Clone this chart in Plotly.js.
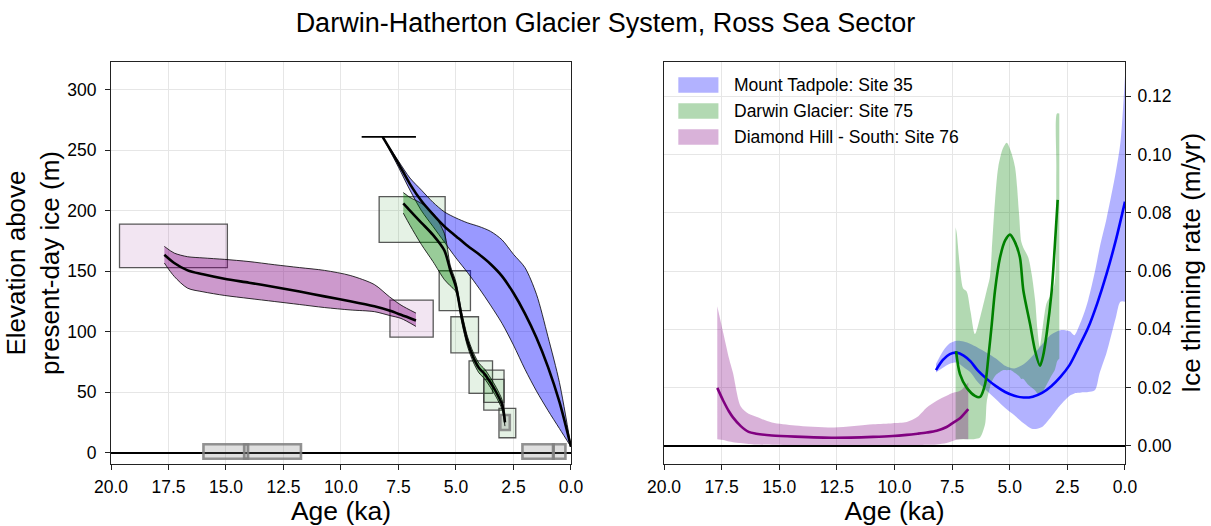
<!DOCTYPE html>
<html><head><meta charset="utf-8">
<script src="https://cdn.plot.ly/plotly-3.0.1.min.js"></script>
<style>html,body{margin:0;padding:0;background:#fff}</style>
</head><body><div id="chart" style="width:1211px;height:526px"></div>
<script>
// ---------- LEFT PANEL: elevation above present-day ice (m) ----------
const tadAge   = [8.19, 7.5, 7.0, 6.5, 6.0, 5.5, 5.0, 4.5, 4.0, 3.5, 3.0, 2.5, 2.0, 1.5, 1.0, 0.5, 0.0];
const tadElev  = [261, 239, 222, 208, 197, 187, 179, 171, 164, 156, 146, 132, 115, 95, 71, 42, 5];
const tadElevHi= [261, 241, 227, 217, 207, 199, 194, 190, 187, 183, 176, 164, 153, 131, 96, 58, 5];
const tadElevLo= [261, 236, 217, 200, 187, 174, 161, 149, 136, 122, 107, 89, 69, 51, 35, 20, 5];

const darAge   = [7.29, 7.0, 6.5, 6.0, 5.5, 5.25, 5.0, 4.75, 4.5, 4.25, 4.0, 3.75, 3.5, 3.25, 3.0, 2.92, 2.87];
const darElev  = [206, 200, 190, 180, 167, 151, 137, 112, 92, 79, 70, 65, 58, 50, 40, 33, 25];
const darElevHi= [215, 211, 206, 198, 181, 155, 141, 116, 96, 83, 74, 69, 62, 54, 44, 36, 28];
const darElevLo= [198, 188, 172, 158, 143, 138, 133, 108, 88, 75, 66, 61, 54, 46, 36, 29, 22];

const diaAge   = [17.68, 17.25, 16.67, 16.0, 15.07, 14.0, 12.9, 11.8, 10.72, 9.6, 8.55, 7.9, 7.39, 6.74];
const diaElev  = [163.6, 156.8, 150.7, 147.5, 143.8, 140.5, 137, 133.2, 129.2, 125.2, 121, 117.5, 114, 109.3];
const diaElevHi= [170.5, 165, 162, 161, 159.8, 158, 155.4, 153, 150.7, 146.5, 139, 129, 122, 115.4];
const diaElevLo= [156.8, 145.7, 136, 133, 130, 127.5, 125, 122.5, 120, 118, 116.6, 113.5, 111, 104.4];

// exposure-age boxes: [age min, age max] x [elev min, elev max]
const diaBoxAgeMin  = [14.94, 5.99];
const diaBoxAgeMax  = [19.63, 7.87];
const diaBoxElevMin = [152.9, 95.6];
const diaBoxElevMax = [189.0, 126.2];

const darBoxAgeMin  = [5.47, 4.37, 4.02, 3.41, 2.91, 2.91, 2.40];
const darBoxAgeMax  = [8.34, 5.73, 5.22, 4.43, 3.79, 3.79, 3.13];
const darBoxElevMin = [173.9, 117.4, 82.6, 49.1, 35.3, 41.7, 12.4];
const darBoxElevMax = [211.6, 150.4, 112.4, 76.0, 68.3, 60.7, 36.7];

const grayBoxAgeMin  = [14.04, 11.74, 0.75, 0.24, 2.66];
const grayBoxAgeMax  = [15.98, 14.21, 2.11, 0.78, 3.07];
const grayBoxElevMin = [-5, -5, -5, -5, 18.8];
const grayBoxElevMax = [7, 7, 7, 7, 31.2];

const errAge  = [7.92];
const errElev = [261];
const errHalf = [1.18];

// ---------- RIGHT PANEL: ice thinning rate (m/yr) ----------
const tadRateAge = [8.2, 7.9, 7.6, 7.3, 7.0, 6.7, 6.4, 6.0, 5.6, 5.2, 4.8, 4.4, 4.0, 3.6, 3.2, 2.8, 2.4, 2.0, 1.6, 1.2, 0.8, 0.4, 0.0];
const tadRate    = [0.026, 0.0295, 0.0315, 0.032, 0.031, 0.029, 0.026, 0.023, 0.0205, 0.0185, 0.0172, 0.0166, 0.0169, 0.0182, 0.0205, 0.0237, 0.0278, 0.034, 0.0405, 0.049, 0.059, 0.0705, 0.0838];
const tadBandAge = [8.2, 7.9, 7.6, 7.3, 7.0, 6.7, 6.4, 6.0, 5.6, 5.2, 4.8, 4.4, 4.0, 3.6, 3.2, 2.8, 2.4, 2.2, 2.0, 1.8, 1.6, 1.3, 1.1, 0.8, 0.4, 0.2, 0.0];
const tadRateHi  = [0.0281, 0.0325, 0.0352, 0.0361, 0.0358, 0.035, 0.0338, 0.032, 0.030, 0.0275, 0.0266, 0.028, 0.031, 0.0348, 0.0382, 0.0397, 0.0393, 0.038, 0.041, 0.045, 0.050, 0.060, 0.068, 0.078, 0.094, 0.104, 0.127];
const tadRateLo  = [0.0252, 0.0268, 0.0282, 0.0286, 0.027, 0.0252, 0.022, 0.0189, 0.016, 0.013, 0.0105, 0.0078, 0.0058, 0.0065, 0.0100, 0.0140, 0.0172, 0.0180, 0.0182, 0.0184, 0.0185, 0.0192, 0.025, 0.032, 0.044, 0.0495, 0.0495];

const darRateAge = [7.33, 7.16, 6.87, 6.51, 6.29, 6.07, 5.93, 5.78, 5.64, 5.42, 5.2, 4.99, 4.78, 4.56, 4.41, 4.12, 3.90, 3.69, 3.55, 3.40, 3.18, 3.05, 2.92];
const darRate    = [0.0325, 0.0246, 0.020, 0.0172, 0.0168, 0.0212, 0.0303, 0.0418, 0.0533, 0.0647, 0.0705, 0.0725, 0.070, 0.0647, 0.0533, 0.0418, 0.0326, 0.0275, 0.031, 0.0384, 0.0533, 0.068, 0.0844];
const darBandAge = [7.35, 7.30, 7.16, 7.02, 6.87, 6.70, 6.51, 6.29, 6.07, 6.0, 5.86, 5.78, 5.64, 5.50, 5.30, 5.13, 4.95, 4.77, 4.60, 4.50, 4.41, 4.20, 4.05, 3.90, 3.80, 3.70, 3.55, 3.40, 3.20, 3.05, 2.98, 2.95, 2.85];
const darRateHi  = [0.075, 0.073, 0.061, 0.054, 0.053, 0.046, 0.0384, 0.044, 0.051, 0.0533, 0.058, 0.067, 0.084, 0.0956, 0.102, 0.104, 0.101, 0.0956, 0.080, 0.070, 0.068, 0.0647, 0.059, 0.050, 0.040, 0.034, 0.042, 0.049, 0.052, 0.056, 0.095, 0.114, 0.114];
const darRateLo  = [0.0023, 0.0023, 0.0023, 0.0023, 0.0023, 0.0023, 0.0024, 0.0029, 0.0075, 0.015, 0.020, 0.022, 0.024, 0.025, 0.026, 0.026, 0.026, 0.025, 0.024, 0.023, 0.023, 0.021, 0.020, 0.019, 0.018, 0.018, 0.019, 0.021, 0.024, 0.026, 0.028, 0.029, 0.030];

const diaRateAge = [17.69, 17.43, 17.18, 17.01, 16.67, 16.33, 16.0, 15.32, 14.31, 12.62, 10.93, 10.08, 9.47, 9.0, 8.6, 8.17, 7.74, 7.45, 7.16, 6.8];
const diaRate    = [0.0199, 0.0155, 0.0118, 0.0098, 0.0068, 0.0048, 0.0042, 0.0036, 0.0032, 0.0028, 0.0031, 0.0034, 0.0038, 0.0042, 0.0046, 0.0052, 0.0065, 0.008, 0.0095, 0.0126];
const diaRateHi  = [0.0479, 0.0387, 0.030, 0.0251, 0.0135, 0.011, 0.0100, 0.0080, 0.0070, 0.0063, 0.0074, 0.0078, 0.0082, 0.010, 0.0132, 0.0155, 0.0172, 0.0182, 0.0189, 0.0218];
const diaRateLo  = [0.0023, 0.002, 0.0015, 0.0013, 0.001, 0.0007, 0.0005, 0.0004, 0.0003, 0.0003, 0.0003, 0.0003, 0.0003, 0.0003, 0.0004, 0.0005, 0.001, 0.0018, 0.0023, 0.0023];

const siteNames = ['Mount Tadpole: Site 35', 'Darwin Glacier: Site 75', 'Diamond Hill - South: Site 76'];
const ageTickVals = [20, 17.5, 15, 12.5, 10, 7.5, 5, 2.5, 0];

// ---------- styles ----------
const colBlue = '0,0,255', colGreen = '0,128,0', colPurple = '128,0,128';
const FONT = 'Liberation Sans, Arial, Helvetica, sans-serif';

function band(x, lo, hi, rgb, alpha, edge, xa, ya) {
  const ln = edge ? {color: 'black', width: 0.8, shape: 'spline', smoothing: 0.8} : {width: 0, shape: 'spline', smoothing: 0.8};
  return [
    {x: x, y: lo, xaxis: xa, yaxis: ya, mode: 'lines', line: ln, hoverinfo: 'skip', showlegend: false},
    {x: x, y: hi, xaxis: xa, yaxis: ya, mode: 'lines', line: ln, fill: 'tonexty',
     fillcolor: 'rgba(' + rgb + ',' + alpha + ')', hoverinfo: 'skip', showlegend: false}
  ];
}
function center(x, y, color, xa, ya) {
  return {x: x, y: y, xaxis: xa, yaxis: ya, mode: 'lines',
          line: {color: color, width: 2.6, shape: 'spline', smoothing: 0.8}, showlegend: false};
}

const traces = [].concat(
  band(tadAge, tadElevLo, tadElevHi, colBlue, 0.4, true, 'x', 'y'),
  band(darAge, darElevLo, darElevHi, colGreen, 0.4, true, 'x', 'y'),
  band(diaAge, diaElevLo, diaElevHi, colPurple, 0.4, true, 'x', 'y'),
  [center(tadAge, tadElev, 'black', 'x', 'y'),
   center(darAge, darElev, 'black', 'x', 'y'),
   center(diaAge, diaElev, 'black', 'x', 'y'),
   {x: errAge, y: errElev, xaxis: 'x', yaxis: 'y', mode: 'markers',
    marker: {size: 1, color: 'rgba(0,0,0,0)'},
    error_x: {type: 'data', array: errHalf, symmetric: true, width: 0, thickness: 1.6, color: 'black'},
    showlegend: false}],
  band(tadBandAge, tadRateLo, tadRateHi, colBlue, 0.3, false, 'x2', 'y2'),
  band(darBandAge, darRateLo, darRateHi, colGreen, 0.3, false, 'x2', 'y2'),
  band(diaRateAge, diaRateLo, diaRateHi, colPurple, 0.3, false, 'x2', 'y2'),
  [center(tadRateAge, tadRate, 'rgb(' + colBlue + ')', 'x2', 'y2'),
   center(darRateAge, darRate, 'rgb(' + colGreen + ')', 'x2', 'y2'),
   center(diaRateAge, diaRate, 'rgb(' + colPurple + ')', 'x2', 'y2')]
);

// boxes as shapes in data coordinates
const shapes = [];
function addBoxes(a0, a1, e0, e1, fill, edge, w) {
  for (let i = 0; i < a0.length; i++) {
    shapes.push({type: 'rect', xref: 'x', yref: 'y', x0: a0[i], x1: a1[i], y0: e0[i], y1: e1[i],
                 fillcolor: fill, line: {color: edge, width: w}, layer: 'between'});
  }
}
addBoxes(diaBoxAgeMin, diaBoxAgeMax, diaBoxElevMin, diaBoxElevMax, 'rgba(128,0,128,0.1)', 'rgba(60,60,60,0.85)', 1.3);
addBoxes(darBoxAgeMin, darBoxAgeMax, darBoxElevMin, darBoxElevMax, 'rgba(0,128,0,0.1)', 'rgba(60,60,60,0.85)', 1.3);
addBoxes(grayBoxAgeMin, grayBoxAgeMax, grayBoxElevMin, grayBoxElevMax, 'rgba(128,128,128,0.25)', 'rgba(128,128,128,0.85)', 2.6);

// manual legend (right panel, upper left)
const legendFill = ['rgba(0,0,255,0.3)', 'rgba(0,128,0,0.3)', 'rgba(128,0,128,0.3)'];
const annotations = [];
for (let i = 0; i < siteNames.length; i++) {
  const yTop = 0.962 - i * 0.0647, yBot = yTop - 0.0385;
  shapes.push({type: 'rect', xref: 'x2 domain', yref: 'y2 domain', x0: 0.031, x1: 0.118, y0: yBot, y1: yTop,
               fillcolor: legendFill[i], line: {width: 0}, layer: 'above'});
  annotations.push({xref: 'x2 domain', yref: 'y2 domain', x: 0.147, y: (yTop + yBot) / 2,
                    xanchor: 'left', yanchor: 'middle', showarrow: false, text: siteNames[i],
                    font: {size: 17.5, family: FONT, color: 'black'}});
}

const axisCommon = {
  showline: true, mirror: true, linecolor: '#222', linewidth: 1,
  ticks: 'outside', ticklen: 5, tickwidth: 1, tickcolor: '#222',
  showgrid: true, gridcolor: '#e6e6e6', gridwidth: 1, automargin: false,
  tickfont: {size: 17.5, family: FONT, color: 'black'},
  title: {font: {size: 26, family: FONT, color: 'black'}}
};
function ax(extra) { return Object.assign({}, JSON.parse(JSON.stringify(axisCommon)), extra); }

const layout = {
  width: 1211, height: 526,
  margin: {l: 111, r: 86, t: 62, b: 62},
  paper_bgcolor: 'white', plot_bgcolor: 'white',
  font: {family: FONT, color: 'black'},
  showlegend: false,
  title: {text: 'Darwin-Hatherton Glacier System, Ross Sea Sector', x: 0.5, xanchor: 'center',
          xref: 'container', yref: 'container', y: 0.958, yanchor: 'middle',
          font: {size: 27, family: FONT, color: 'black'}},
  xaxis: ax({domain: [0, 0.4536], anchor: 'y', range: [20, 0], tickvals: ageTickVals, tickformat: '.1f',
             zeroline: false, ticklabelstandoff: 2,
             title: {text: 'Age (ka)', font: {size: 26.5, family: FONT, color: 'black'}}}),
  yaxis: ax({domain: [0, 1], anchor: 'x', range: [-9.3, 322.9], tick0: 0, dtick: 50,
             zeroline: true, zerolinecolor: 'black', zerolinewidth: 1.5, ticklabelstandoff: 5,
             title: {text: 'Elevation above<br>present-day ice (m)',
                     font: {size: 26, family: FONT, color: 'black'}}}),
  xaxis2: ax({domain: [0.5454, 1], anchor: 'y2', range: [20, 0], tickvals: ageTickVals, tickformat: '.1f',
              zeroline: false, ticklabelstandoff: 2,
              title: {text: 'Age (ka)', font: {size: 26.5, family: FONT, color: 'black'}}}),
  yaxis2: ax({domain: [0, 1], anchor: 'x2', side: 'right', range: [-0.0062, 0.1317], tick0: 0, dtick: 0.02,
              tickformat: '.2f', zeroline: true, zerolinecolor: 'black', zerolinewidth: 1.3, ticklabelstandoff: 3,
              title: {text: 'Ice thinning rate (m/yr)',
                      font: {size: 26, family: FONT, color: 'black'}}}),
  shapes: shapes,
  annotations: annotations
};

Plotly.newPlot('chart', traces, layout, {displayModeBar: false, staticPlot: true});
</script></body></html>
